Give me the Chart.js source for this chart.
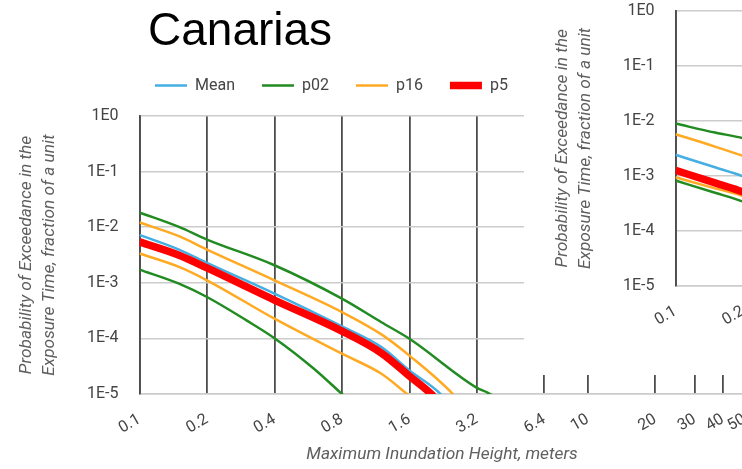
<!DOCTYPE html>
<html>
<head>
<meta charset="utf-8">
<script src="https://cdn.jsdelivr.net/npm/chart.js@4/dist/chart.umd.min.js"></script>
<style>
  html, body { margin: 0; padding: 0; background: #fff; overflow: hidden; }
  #stage { position: relative; width: 742px; height: 469px; overflow: hidden; background: #fff; }
  #mainWrap { position: absolute; left: 0; top: 0; }
  #sideWrap { position: absolute; left: 524px; top: -20px; background: #fff; }
  /* upper strip of the side panel frame, reaching a little further left */
  #sideFrameTop { position: absolute; left: 509px; top: 60px; width: 16px; height: 45px; background: #fff; }
  #title { position: absolute; left: 148px; top: 2px; font: 46px "Liberation Sans", Arial, sans-serif; color: #000; white-space: nowrap; }
  canvas { display: block; }
</style>
</head>
<body>
<div id="stage">
  <div id="mainWrap"><canvas id="mainChart" width="765" height="469"></canvas></div>
  <div id="title">Canarias</div>
  <div id="sideFrameTop"></div>
  <div id="sideWrap"><canvas id="sideChart" width="780" height="395"></canvas></div>
</div>
<script>
// ---- axes ----
const xTickValues = [0.1, 0.2, 0.4, 0.8, 1.6, 3.2, 6.4, 10, 20, 30, 40, 50];
const xTickLabels = ['0.1', '0.2', '0.4', '0.8', '1.6', '3.2', '6.4', '10', '20', '30', '40', '50'];
const yTickValues = [1e-5, 1e-4, 1e-3, 1e-2, 1e-1, 1];
const yTickLabels = ['1E-5', '1E-4', '1E-3', '1E-2', '1E-1', '1E0'];

const seriesNames = ['Mean', 'p02', 'p16', 'p50', 'p84', 'p98'];

// ---- Canarias: inundation height (m) -> probability of exceedance ----
const canMeanH = [0.1, 0.15, 0.2, 0.4, 0.8, 1.2, 1.6, 2.2, 3.2];
const canMeanP = [0.00727, 0.00396, 0.00228, 0.000638, 0.000164, 0.0000697, 0.0000265, 0.00001, 0.0000015];
const canP02H  = [0.1, 0.15, 0.2, 0.3, 0.4, 0.6, 0.8, 1.6];
const canP02P  = [0.00173, 0.000966, 0.000555, 0.000211, 0.000101, 0.0000285, 0.00001, 0.0000008];
const canP16H  = [0.1, 0.15, 0.2, 0.4, 0.8, 1.2, 1.56, 3.2];
const canP16P  = [0.00336, 0.00193, 0.00111, 0.000226, 0.000053, 0.0000231, 0.00001, 0.0000008];
const canP50H  = [0.1, 0.15, 0.2, 0.4, 0.8, 1.2, 1.6, 2.0, 3.2];
const canP50P  = [0.00544, 0.00313, 0.00185, 0.00049, 0.000135, 0.0000545, 0.000021, 0.00001, 0.0000012];
const canP84H  = [0.1, 0.15, 0.2, 0.4, 0.8, 1.2, 1.6, 2.5, 4.0];
const canP84P  = [0.01216, 0.00689, 0.00396, 0.00111, 0.000298, 0.000118, 0.000049, 0.00001, 0.000001];
const canP98H  = [0.1, 0.15, 0.2, 0.4, 0.8, 1.2, 1.6, 3.2, 3.66, 6.4];
const canP98P  = [0.0184, 0.0101, 0.006, 0.00207, 0.000519, 0.000195, 0.0000985, 0.0000129, 0.00001, 0.0000015];

// ---- neighbouring panel (same axes, another zone) ----
const sideH    = [0.1, 0.15, 0.2, 0.4, 0.8, 1.6, 3.2];
const sideMeanP = [0.00241, 0.00143, 0.00098, 0.0003, 0.00008, 0.000018, 0.000003];
const sideP02P  = [0.000822, 0.000493, 0.00034, 0.0001, 0.000025, 0.000005, 0.0000008];
const sideP16P  = [0.000944, 0.000592, 0.00043, 0.00012, 0.00003, 0.000006, 0.000001];
const sideP50P  = [0.00126, 0.000746, 0.00051, 0.00015, 0.00004, 0.000008, 0.0000013];
const sideP84P  = [0.0057, 0.0034, 0.0023, 0.0008, 0.00022, 0.00005, 0.00001];
const sideP98P  = [0.0089, 0.0061, 0.0048, 0.0018, 0.0006, 0.00015, 0.00003];

// ---- styling ----
const seriesColors = { Mean: '#45aee3', p02: '#228b22', p16: '#ffaa22', p50: '#ff0000', p84: '#ffaa22', p98: '#228b22' };
const seriesWidths = { Mean: 2.5, p02: 2.5, p16: 2.5, p50: 7.5, p84: 2.5, p98: 2.5 };

const FONT = 'Roboto';
const tickColor = '#444444';
const titleColor = '#5f5f5f';

function pairs(h, p) { return h.map((v, i) => ({ x: v, y: p[i] })); }

function buildDatasets(series) {
  return seriesNames.map(name => ({
    label: name,
    data: pairs(series[name][0], series[name][1]),
    borderColor: seriesColors[name],
    backgroundColor: seriesColors[name],
    borderWidth: seriesWidths[name],
    pointBorderColor: seriesColors[name],
    pointBorderWidth: seriesWidths[name],
    pointRadius: 0,
    pointHoverRadius: 0,
    cubicInterpolationMode: 'monotone',
    fill: false,
    clip: 0,
    order: name === 'p50' ? 0 : 1
  }));
}

// Puts the legend row at a fixed position once the layout is done.
const legendAnchor = {
  id: 'legendAnchor',
  afterLayout(chart, args, opts) {
    const lg = chart.legend;
    if (!lg || !lg.options.display || opts.x == null) return;
    const pad = lg.options.labels.padding;
    const w = lg.right - lg.left, h = lg.bottom - lg.top;
    lg.left = opts.x - pad; lg.right = lg.left + w;
    lg.top = opts.y - pad - 8; lg.bottom = lg.top + h;
  }
};

function buildOptions(cfg) {
  return {
    responsive: false,
    animation: false,
    devicePixelRatio: 1,
    layout: { padding: cfg.padding },
    plugins: {
      legend: {
        display: cfg.legend,
        position: 'top',
        align: 'start',
        labels: {
          usePointStyle: true,
          pointStyle: 'line',
          pointStyleWidth: 32,
          padding: 27,
          color: tickColor,
          font: { family: FONT, size: 16 },
          sort: (a, b) => a.datasetIndex - b.datasetIndex
        }
      },
      legendAnchor: cfg.legendPos || {},
      tooltip: { enabled: false },
      title: { display: false }
    },
    scales: {
      x: {
        type: 'logarithmic',
        min: 0.1,
        max: 50,
        afterBuildTicks: s => { s.ticks = xTickValues.map(v => ({ value: v })); },
        afterFit: s => { s.height = cfg.xHeight; s.paddingRight = 0; s.paddingLeft = 0; },
        ticks: {
          autoSkip: false,
          minRotation: 30,
          maxRotation: 30,
          padding: 16,
          color: tickColor,
          font: { family: FONT, size: 16 },
          callback: (v, i) => xTickLabels[i]
        },
        grid: { color: '#4d4d4d', lineWidth: 1.8, drawTicks: false },
        border: { color: '#cccccc', width: 1.5 },
        title: {
          display: cfg.xTitle,
          text: 'Maximum Inundation Height, meters',
          color: titleColor,
          font: { family: FONT, size: 17.3, style: 'italic' },
          padding: { top: 0, bottom: 4 }
        }
      },
      y: {
        type: 'logarithmic',
        min: 1e-5,
        max: 1,
        afterBuildTicks: s => { s.ticks = yTickValues.map(v => ({ value: v })); },
        afterFit: s => { s.width = 139.5; },
        ticks: {
          padding: 21,
          color: tickColor,
          font: { family: FONT, size: 16 },
          callback: (v, i) => yTickLabels[i]
        },
        grid: { color: '#cccccc', lineWidth: 1.5, drawTicks: false },
        border: { color: '#4d4d4d', width: 1.8 },
        title: {
          display: true,
          text: ['Probability of Exceedance in the', 'Exposure Time, fraction of a unit'],
          color: titleColor,
          font: { family: FONT, size: 17.3, style: 'italic', lineHeight: 1.33 },
          padding: { top: 15.5, bottom: 0 }
        }
      }
    }
  };
}

new Chart(document.getElementById('mainChart'), {
  type: 'line',
  data: {
    datasets: buildDatasets({
      Mean: [canMeanH, canMeanP], p02: [canP02H, canP02P], p16: [canP16H, canP16P],
      p50: [canP50H, canP50P], p84: [canP84H, canP84P], p98: [canP98H, canP98P]
    })
  },
  options: buildOptions({
    padding: { top: 63, left: 0, right: 20.5, bottom: 0 },
    legend: true,
    legendPos: { x: 155, y: 85.5 },
    xHeight: 75,
    xTitle: true
  }),
  plugins: [legendAnchor]
});

new Chart(document.getElementById('sideChart'), {
  type: 'line',
  data: {
    datasets: buildDatasets({
      Mean: [sideH, sideMeanP], p02: [sideH, sideP02P], p16: [sideH, sideP16P],
      p50: [sideH, sideP50P], p84: [sideH, sideP84P], p98: [sideH, sideP98P]
    })
  },
  options: buildOptions({
    padding: { top: 28, left: 12, right: 23.3, bottom: 0 },
    legend: false,
    xHeight: 89,
    xTitle: false
  }),
  plugins: [legendAnchor]
});
</script>
</body>
</html>
